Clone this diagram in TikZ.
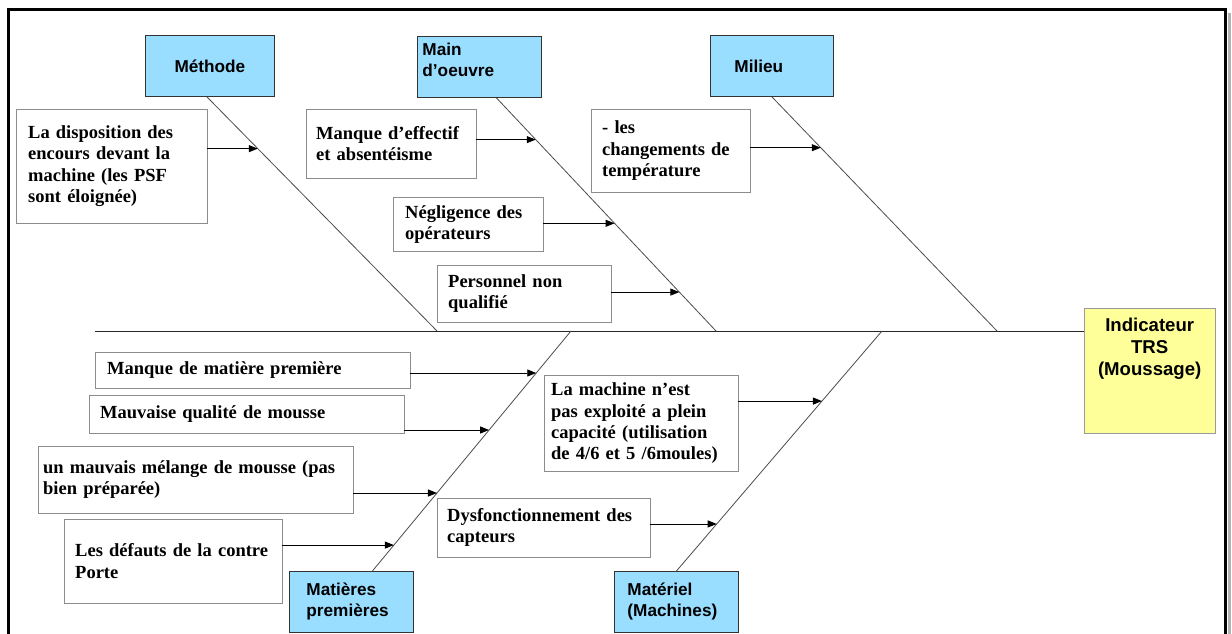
\documentclass[tikz,border=0pt]{standalone}
\usepackage{fontspec}
\setmainfont{Liberation Serif}
\newfontfamily\arialfont{Liberation Sans}
\usetikzlibrary{calc,arrows.meta}
\definecolor{catblue}{RGB}{153,221,255}
\definecolor{trsyellow}{RGB}{255,255,153}
\newcommand{\causefont}{\fontsize{18.5pt}{21.3pt}\selectfont\bfseries}
\newcommand{\catfont}{\arialfont\fontsize{17.2pt}{21pt}\selectfont\bfseries}
\newcommand{\trsfont}{\arialfont\fontsize{18.6pt}{22pt}\selectfont\bfseries}

\begin{document}
\begin{tikzpicture}[x=1pt,y=-1pt,
    cause/.style={draw=black!45,fill=white,anchor=north west,align=left,font=\causefont,inner ysep=2pt},
    cat/.style={draw=black!80,fill=catblue,anchor=north west,minimum height=61pt,font=\catfont,line width=0.9pt},
    bone/.style={draw=black!70,line width=0.8pt},
    arr/.style={-{Triangle[length=9pt,width=7pt]},line width=0.9pt}]
    \useasboundingbox(0,0)rectangle(1232,634);
    \fill[white](0,0)rectangle(1232,634);
    \draw[line width=3pt,black!30](1229,13)--(1229,645);
    \draw[line width=3pt](8,645)--(8,10)--(1225,10)--(1225,645);

    \node[cat,text width=119pt,inner xsep=5pt,align=center](methode)at(145,35){Méthode};
    \node[cat,text width=114pt,inner xsep=5pt,inner ysep=4pt,text height=15pt,text depth=38pt,align=left](oeuvre)at(417,36){Main\\d’oeuvre};
    \node[cat,text width=75pt,inner xsep=24pt,align=left](milieu)at(710,35){Milieu};
    \node[cat,text width=90pt,inner xsep=17pt,align=left](matieres)at(289,571){Matières\\premières};
    \node[cat,text width=98pt,inner xsep=13pt,align=left](materiel)at(614,571){Matériel\\(Machines)};
    \node[draw=black!40,fill=trsyellow,anchor=north west,font=\trsfont,align=center,text width=123pt,inner xsep=4pt,inner ysep=4pt,text height=19.5pt,text depth=97.5pt](trs)at(1084,308){Indicateur\\TRS\\(Moussage)};

    \coordinate(tail)at(95,331);
    \draw[bone,black!85](tail)--(tail-|trs.west);
    \coordinate(m0)at(437,331);
    \coordinate(o0)at(716,331);
    \coordinate(l0)at(997,331);
    \coordinate(p0)at(571,331);
    \coordinate(e0)at(882,331);
    \coordinate(m9)at([xshift=-3pt]methode.south);
    \coordinate(o9)at([xshift=17pt]oeuvre.south);
    \coordinate(p9)at([xshift=21pt]matieres.north);
    \draw[bone](m9)--(m0);
    \draw[bone](o9)--(o0);
    \draw[bone](milieu.south)--(l0);
    \draw[bone](p9)--(p0);
    \draw[bone](materiel.north)--(e0);

    \node[cause,text width=167pt,inner xsep=12pt,minimum height=114pt](disp)at(16,109){La disposition des\\encours devant la\\machine (les PSF\\sont éloignée)};
    \node[cause,text width=150pt,inner xsep=10pt,minimum height=69pt](effectif)at(306,109){Manque d’effectif\\et absentéisme};
    \node[cause,text width=126pt,inner xsep=12pt,minimum height=54pt](neglig)at(393,197){Négligence des\\opérateurs};
    \node[cause,text width=152pt,inner xsep=11pt,minimum height=57pt](personnel)at(437,265){Personnel non\\qualifié};
    \node[cause,text width=137pt,inner xsep=11pt,minimum height=83pt](temper)at(591,109){- les\\changements de\\température};
    \node[cause,text width=291pt,inner xsep=12pt,minimum height=36pt](manque)at(95,352){Manque de matière première};
    \node[cause,text width=293pt,inner xsep=11pt,minimum height=38pt](qualite)at(89,395){Mauvaise qualité de mousse};
    \node[cause,text width=305pt,inner xsep=5pt,minimum height=67pt](melange)at(38,446){un mauvais mélange de mousse (pas\\bien préparée)};
    \node[cause,text width=196pt,inner xsep=11pt,minimum height=84pt](contre)at(64,519){Les défauts de la contre\\Porte};
    \node[cause,text width=180pt,inner xsep=7pt,minimum height=96pt](capacite)at(544,375){La machine n’est\\pas exploité a plein\\capacité (utilisation\\de 4/6 et 5 /6moules)};
    \node[cause,text width=193pt,inner xsep=10pt,minimum height=59pt](capteurs)at(437,498){Dysfonctionnement des\\capteurs};

    \coordinate(m1)at($(m9)!0.221!(m0)$);
    \coordinate(o1)at($(o9)!0.179!(o0)$);
    \coordinate(o2)at($(o9)!0.538!(o0)$);
    \coordinate(o3)at($(o9)!0.833!(o0)$);
    \coordinate(l1)at($(milieu.south)!0.217!(l0)$);
    \coordinate(p1)at($(p9)!0.825!(p0)$);
    \coordinate(p2)at($(p9)!0.5875!(p0)$);
    \coordinate(p3)at($(p9)!0.325!(p0)$);
    \coordinate(p4)at($(p9)!0.108!(p0)$);
    \coordinate(e1)at($(materiel.north)!0.708!(e0)$);
    \coordinate(e2)at($(materiel.north)!0.196!(e0)$);
    \draw[arr](disp.east|-m1)--(m1);
    \draw[arr](effectif.east|-o1)--(o1);
    \draw[arr](neglig.east|-o2)--(o2);
    \draw[arr](personnel.east|-o3)--(o3);
    \draw[arr](temper.east|-l1)--(l1);
    \draw[arr](manque.east|-p1)--(p1);
    \draw[arr](qualite.east|-p2)--(p2);
    \draw[arr](melange.east|-p3)--(p3);
    \draw[arr](contre.east|-p4)--(p4);
    \draw[arr](capacite.east|-e1)--(e1);
    \draw[arr](capteurs.east|-e2)--(e2);
\end{tikzpicture}
\end{document}
